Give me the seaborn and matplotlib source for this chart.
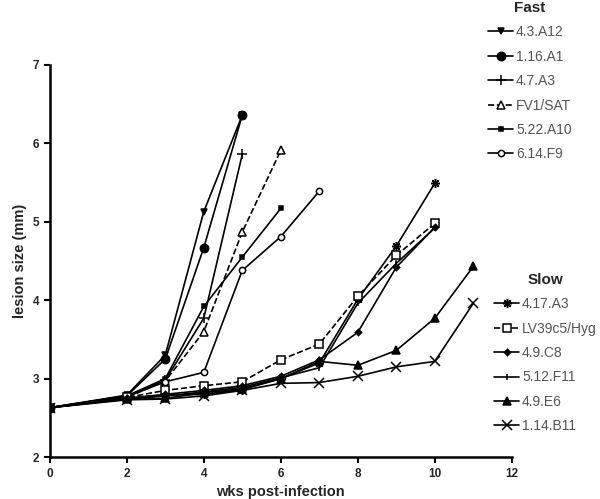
import pandas as pd
import matplotlib.pyplot as plt
import seaborn as sns
from matplotlib.lines import Line2D

# weeks post-infection and lesion size (mm) per strain
fast_names = ['4.3.A12', '1.16.A1', '4.7.A3', 'FV1/SAT', '5.22.A10', '6.14.F9']
fast_weeks = [
    [0, 2, 3, 4, 5],
    [0, 2, 3, 4, 5],
    [0, 2, 3, 4, 5],
    [0, 2, 3, 4, 5, 6],
    [0, 2, 3, 4, 5, 6],
    [0, 2, 3, 4, 5, 6, 7],
]
fast_sizes = [
    [2.63, 2.79, 3.30, 5.13, 6.36],
    [2.63, 2.78, 3.25, 4.67, 6.36],
    [2.63, 2.77, 2.98, 3.77, 5.86],
    [2.63, 2.76, 2.97, 3.60, 4.87, 5.91],
    [2.63, 2.78, 3.00, 3.92, 4.55, 5.17],
    [2.63, 2.77, 2.96, 3.08, 4.38, 4.81, 5.39],
]

slow_names = ['4.17.A3', 'LV39c5/Hyg', '4.9.C8', '5.12.F11', '4.9.E6', '1.14.B11']
slow_weeks = [
    [0, 2, 3, 4, 5, 6, 7, 8, 9, 10],
    [0, 2, 3, 4, 5, 6, 7, 8, 9, 10],
    [0, 2, 3, 4, 5, 6, 7, 8, 9, 10],
    [0, 2, 3, 4, 5, 6, 7, 8, 9, 10],
    [0, 2, 3, 4, 5, 6, 7, 8, 9, 10, 11],
    [0, 2, 3, 4, 5, 6, 7, 8, 9, 10, 11],
]
slow_sizes = [
    [2.63, 2.75, 2.79, 2.80, 2.86, 3.00, 3.20, 4.01, 4.69, 5.49],
    [2.63, 2.76, 2.85, 2.91, 2.96, 3.24, 3.44, 4.05, 4.57, 4.98],
    [2.63, 2.75, 2.80, 2.85, 2.91, 3.03, 3.24, 3.59, 4.42, 4.93],
    [2.63, 2.74, 2.78, 2.83, 2.89, 3.01, 3.14, 3.96, 4.47, 4.92],
    [2.63, 2.74, 2.75, 2.82, 2.87, 3.00, 3.22, 3.17, 3.36, 3.77, 4.43],
    [2.63, 2.73, 2.74, 2.78, 2.85, 2.94, 2.95, 3.03, 3.15, 3.22, 3.96],
]

# marker / line style for each strain
styles = {
    '4.3.A12': dict(marker='v', ms=5, mfc='black', ls='-'),
    '1.16.A1': dict(marker='o', ms=6, mfc='black', ls='-'),
    '4.7.A3': dict(marker='+', ms=7, mfc='black', ls='-'),
    'FV1/SAT': dict(marker='^', ms=5.5, mfc='white', ls='--'),
    '5.22.A10': dict(marker='s', ms=3.5, mfc='black', ls='-'),
    '6.14.F9': dict(marker='o', ms=4.5, mfc='white', ls='-'),
    '4.17.A3': dict(marker=(8, 2, 0), ms=6.5, mfc='black', ls='-'),
    'LV39c5/Hyg': dict(marker='s', ms=6, mfc='white', ls='--'),
    '4.9.C8': dict(marker='D', ms=3.2, mfc='black', ls='-'),
    '5.12.F11': dict(marker='|', ms=5, mfc='black', ls='-'),
    '4.9.E6': dict(marker='^', ms=5.5, mfc='black', ls='-'),
    '1.14.B11': dict(marker='x', ms=6.5, mfc='black', ls='-'),
}

sns.set_style('ticks')
plt.rcParams['font.family'] = ['Liberation Sans', 'DejaVu Sans']

fig = plt.figure(figsize=(6, 4.99), dpi=100)
ax = fig.add_axes([0.083, 0.084, 0.77, 0.786])


def draw(names, weeks, sizes):
    handles = []
    for name, wk, sz in zip(names, weeks, sizes):
        st = styles[name]
        df = pd.DataFrame({'wks': wk, 'size': sz})
        sns.lineplot(data=df, x='wks', y='size', ax=ax, color='black', lw=1.2,
                     linestyle=st['ls'], marker=st['marker'], markersize=st['ms'],
                     markerfacecolor=st['mfc'], markeredgecolor='black',
                     markeredgewidth=1.1)
        handles.append(Line2D([], [], color='black', lw=1.2, linestyle=st['ls'],
                              marker=st['marker'], markersize=st['ms'],
                              markerfacecolor=st['mfc'], markeredgecolor='black',
                              markeredgewidth=1.1, label=name))
    return handles


fast_handles = draw(fast_names, fast_weeks, fast_sizes)
slow_handles = draw(slow_names, slow_weeks, slow_sizes)

ax.set_xlim(0, 12)
ax.set_ylim(2, 7)
ax.set_xticks(range(0, 13, 2))
ax.set_yticks(range(2, 8))
ax.set_xlabel('wks post-infection', fontsize=10.5, fontweight='bold')
ax.set_ylabel('lesion size (mm)', fontsize=10.5, fontweight='bold')
for lab in ax.get_xticklabels() + ax.get_yticklabels():
    lab.set_fontweight('bold')
ax.tick_params(labelsize=8.5, width=1.5, length=4, color='black')
for s in ['left', 'bottom']:
    ax.spines[s].set_linewidth(1.8)
    ax.spines[s].set_color('black')
sns.despine(ax=ax)

# two legends outside to the right
for handles, title, x, y in [(fast_handles, 'Fast', 0.80, 1.015),
                             (slow_handles, 'Slow', 0.81, 0.47)]:
    leg = fig.legend(handles=handles, title=title, loc='upper left',
                     bbox_to_anchor=(x, y), frameon=False, fontsize=10,
                     handlelength=1.8, handletextpad=0.2, labelspacing=0.75,
                     borderaxespad=0.2)
    leg.get_title().set_fontweight('bold')
    leg.get_title().set_fontsize(11)
    for t in leg.get_texts():
        t.set_color('#555555')

fig.savefig('out.png', dpi=100)
